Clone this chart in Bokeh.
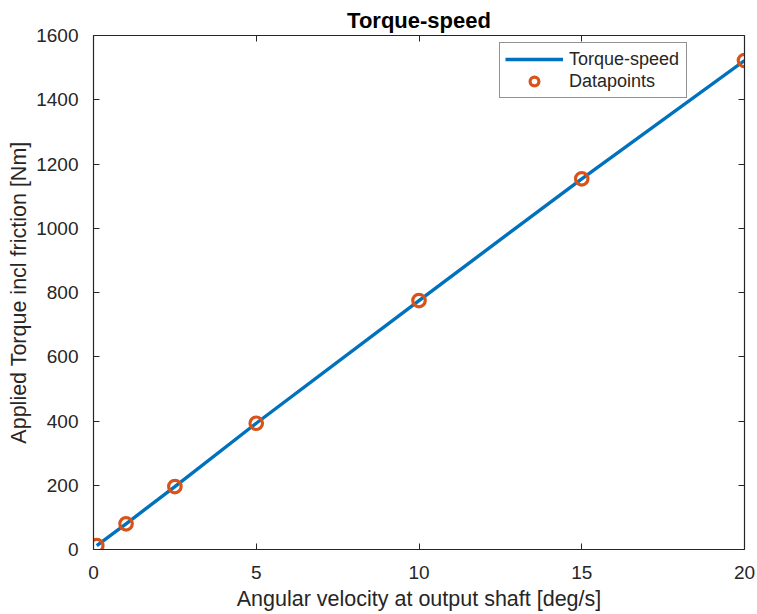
from bokeh.plotting import figure
from bokeh.models import Range1d, LinearAxis, FixedTicker, Legend, LegendItem
from bokeh.embed import file_html
from bokeh.resources import INLINE

# Angular velocity [deg/s] and applied torque incl. friction [Nm]
speed = [0.1, 1.0, 2.5, 5.0, 10.0, 15.0, 20.0]
torque = [12, 80, 196, 393, 775, 1154, 1522]

x_ticks = [0, 5, 10, 15, 20]
y_ticks = [0, 200, 400, 600, 800, 1000, 1200, 1400, 1600]

FONT = "Liberation Sans"
INK = "#262626"

p = figure(width=757, height=614, output_backend="svg", toolbar_location=None,
           x_range=Range1d(0, 20), y_range=Range1d(0, 1600),
           min_border_left=93, min_border_right=13, min_border_top=35,
           min_border_bottom=65, title="Torque-speed")
p.outline_line_color = None
p.background_fill_color = "white"
p.border_fill_color = "white"
p.grid.visible = False

p.title.align = "center"
p.title.text_font = FONT
p.title.text_font_size = "22px"
p.title.text_font_style = "bold"
p.title.text_color = "black"
p.title.standoff = 6

def style_axis(ax, ticks, labels=True):
    ax.ticker = FixedTicker(ticks=ticks)
    ax.axis_line_color = INK
    ax.axis_line_width = 1.2
    ax.major_tick_line_color = INK
    ax.major_tick_in = 6
    ax.major_tick_out = 0
    ax.minor_tick_line_color = None
    ax.major_label_text_font = FONT
    ax.major_label_text_font_size = "19px"
    ax.major_label_text_color = INK
    ax.axis_label_text_font = FONT
    ax.axis_label_text_font_size = "21.5px"
    ax.axis_label_text_font_style = "normal"
    ax.axis_label_text_color = INK
    if not labels:
        ax.major_label_text_font_size = "0px"
        ax.major_label_text_color = None

style_axis(p.xaxis[0], x_ticks)
style_axis(p.yaxis[0], y_ticks)
p.xaxis[0].axis_label = "Angular velocity at output shaft [deg/s]"
p.yaxis[0].axis_label = "Applied Torque incl friction [Nm]"
p.xaxis[0].major_label_standoff = 16
p.yaxis[0].major_label_standoff = 15
p.xaxis[0].axis_label_standoff = 5
p.yaxis[0].axis_label_standoff = 2

top_ax = LinearAxis()
right_ax = LinearAxis()
style_axis(top_ax, x_ticks, labels=False)
style_axis(right_ax, y_ticks, labels=False)
p.add_layout(top_ax, "above")
p.add_layout(right_ax, "right")

line = p.line(speed, torque, line_color="#0072BD", line_width=3.4)
pts = p.scatter(speed, torque, marker="circle", size=12.5, fill_color=None,
                line_color="#D95319", line_width=3.2)

legend = Legend(items=[LegendItem(label="Torque-speed", renderers=[line]),
                       LegendItem(label="Datapoints", renderers=[pts])],
                location=(406, 451))
legend.border_line_color = INK
legend.border_line_width = 1
legend.background_fill_color = "white"
legend.background_fill_alpha = 1
legend.label_text_font = FONT
legend.label_text_font_size = "18px"
legend.label_text_color = INK
legend.glyph_width = 58
legend.glyph_height = 22
legend.label_height = 22
legend.label_width = 112
legend.spacing = 0
legend.padding = 5
legend.margin = 0
legend.label_standoff = 6
p.add_layout(legend, "center")

open("out.html", "w").write(file_html(p, INLINE))
